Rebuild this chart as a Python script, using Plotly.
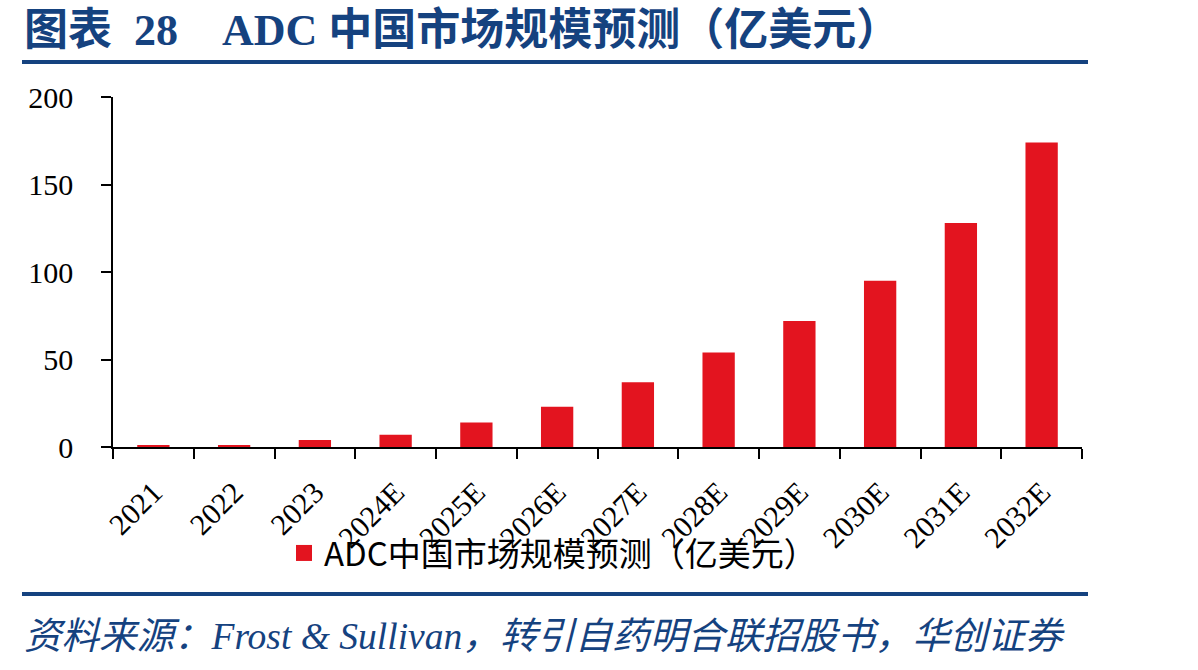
import plotly.graph_objects as go

categories = ["2021", "2022", "2023", "2024E", "2025E", "2026E", "2027E", "2028E", "2029E", "2030E", "2031E", "2032E"]
values = [0.6, 0.6, 4, 7, 14, 23, 37, 54, 72, 95, 128, 174]
series_name = "ADC中国市场规模预测（亿美元）"
title_text = "图表&nbsp;&nbsp;28&nbsp;&nbsp;&nbsp;&nbsp;ADC&nbsp;中国市场规模预测（亿美元）"
source_text = "资料来源：Frost & Sullivan，转引自药明合联招股书，华创证券"

BLUE = "#15427F"
RED = "#E3141F"

L, R, T, B = 113, 116, 97, 223
PW, PH = 1198 - L - R, 670 - T - B

def px(x):
    return (x - L) / PW

def py(y):
    return (670 - B - y) / PH

fig = go.Figure()
fig.add_trace(go.Bar(x=categories, y=values, name=series_name, showlegend=False,
                     marker=dict(color=RED, line=dict(width=0))))
fig.add_trace(go.Scatter(x=[None], y=[None], mode="markers", name=series_name,
                         marker=dict(symbol="square", size=20, color=RED), showlegend=True))

fig.update_layout(
    width=1198, height=670,
    margin=dict(l=L, r=R, t=T, b=B),
    paper_bgcolor="white", plot_bgcolor="white",
    bargap=0.6,
    showlegend=True,
    legend=dict(orientation="h", x=px(553), y=py(553), xanchor="center", yanchor="middle",
                font=dict(family="Noto Sans CJK SC, Noto Sans, sans-serif", size=33, color="black"),
                bgcolor="rgba(0,0,0,0)", itemwidth=30, itemsizing="trace"),
    font=dict(family="Liberation Serif, Times New Roman, serif", color="black"),
)
fig.update_xaxes(type="category", showline=True, linecolor="black", linewidth=1.5,
                 ticks="outside", tickson="boundaries", ticklen=10, tickcolor="black", tickwidth=1.5,
                 tickangle=-45, ticklabelstandoff=14,
                 tickfont=dict(family="Liberation Serif, serif", size=30, color="black"),
                 showgrid=False)
fig.update_yaxes(range=[0, 200], dtick=50, showline=True, linecolor="black", linewidth=1.5,
                 ticks="outside", ticklen=10, tickcolor="black", tickwidth=1.5,
                 ticklabelstandoff=22,
                 tickfont=dict(family="Liberation Serif, serif", size=30, color="black"),
                 showgrid=False, zeroline=False)

# title
fig.add_annotation(text="<b>" + title_text + "</b>", xref="paper", yref="paper",
                   x=px(22), y=py(31), xanchor="left", yanchor="middle", showarrow=False,
                   font=dict(family="Liberation Serif, Noto Sans CJK SC, serif", size=44, color=BLUE))
# source
fig.add_annotation(text="<i>" + source_text + "</i>", xref="paper", yref="paper",
                   x=px(22), y=py(636), xanchor="left", yanchor="middle", showarrow=False,
                   font=dict(family="Liberation Serif, Noto Sans CJK SC, serif", size=37.5, color=BLUE))
# blue rules
for ypx in (62, 594):
    fig.add_shape(type="line", xref="paper", yref="paper", x0=px(22), x1=px(1088),
                  y0=py(ypx), y1=py(ypx), line=dict(color=BLUE, width=4))

fig.write_html("out.html")
